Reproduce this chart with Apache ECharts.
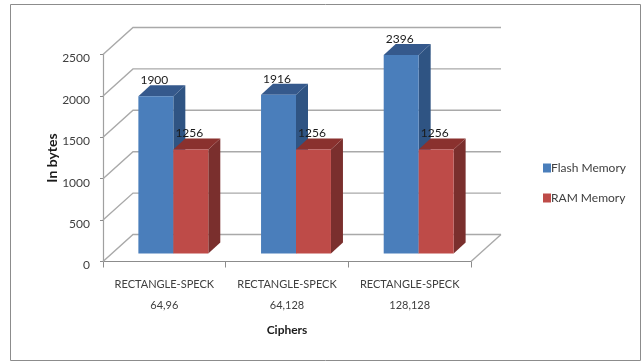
<!DOCTYPE html>
<html>
<head>
<meta charset="utf-8">
<style>html,body{margin:0;padding:0;background:#fff}#chart{width:644px;height:362px}</style>
<script src="https://cdn.jsdelivr.net/npm/echarts@6/dist/echarts.min.js"></script>
</head>
<body>
<div id="chart"></div>
<script>
// Memory footprint of the hybrid ciphers, drawn as pseudo-3D clustered columns.
const categories = ['RECTANGLE-SPECK\n64,96', 'RECTANGLE-SPECK\n64,128', 'RECTANGLE-SPECK\n128,128'];
const flashMemory = [1900, 1916, 2396];
const ramMemory = [1256, 1256, 1256];
const yTicks = [0, 500, 1000, 1500, 2000, 2500];

const FONT = 'Lato, "Open Sans", sans-serif';
const WALL = { dx: 30, dy: -27 };   // front plane to back wall
const GAP = { dx: 9, dy: -8 };      // front plane to column front
const DEPTH = { dx: 12, dy: -11 };  // column depth
const BAR_FRACTION = 0.285;         // column width relative to a category band

const chart = echarts.init(document.getElementById('chart'), null, { renderer: 'canvas' });

function wallItem(params, api) {
  const g = params.coordSys;
  const y = api.coord([0, api.value(0)])[1];
  const left = g.x, right = g.x + g.width;
  const style = { stroke: '#a9a9a9', lineWidth: 1.4, fill: 'none' };
  const shapes = [
    { type: 'polyline', shape: { points: [[left, y], [left + WALL.dx, y + WALL.dy], [right + WALL.dx, y + WALL.dy]] }, style }
  ];
  if (api.value(0) === 0) {
    shapes.push({ type: 'line', shape: { x1: right, y1: y, x2: right + WALL.dx, y2: y + WALL.dy }, style });
  }
  return { type: 'group', children: shapes };
}

function columnItem(slot, front, side, top) {
  return function (params, api) {
    const value = api.value(1);
    const center = api.coord([api.value(0), value]);
    const base = api.coord([api.value(0), 0]);
    const w = api.size([1, 0])[0] * BAR_FRACTION;
    const x0 = center[0] + GAP.dx + slot * w;
    const x1 = x0 + w;
    const yTop = center[1] + GAP.dy;
    const yBase = base[1] + GAP.dy;
    const d = DEPTH;
    return {
      type: 'group',
      children: [
        { type: 'polygon', shape: { points: [[x1, yTop], [x1 + d.dx, yTop + d.dy], [x1 + d.dx, yBase + d.dy], [x1, yBase]] }, style: { fill: side } },
        { type: 'polygon', shape: { points: [[x0, yTop], [x0 + d.dx, yTop + d.dy], [x1 + d.dx, yTop + d.dy], [x1, yTop]] }, style: { fill: top } },
        { type: 'rect', shape: { x: x0, y: yTop, width: w, height: yBase - yTop }, style: { fill: front } },
        { type: 'text', z2: 50, style: { text: String(value), x: x0 + 16, y: yTop - 16, align: 'center', verticalAlign: 'middle', font: '12px ' + FONT, fill: '#1a1a1a' } }
      ]
    };
  };
}

chart.setOption({
  animation: false,
  backgroundColor: '#ffffff',
  graphic: [{
    type: 'rect', silent: true, z: -1,
    shape: { x: 10.5, y: 4.5, width: 630, height: 356 },
    style: { fill: '#ffffff', stroke: '#8c8c8c', lineWidth: 1 }
  }],
  grid: { left: 103, top: 54.5, width: 368, height: 207 },
  legend: {
    orient: 'vertical',
    left: 538,
    top: 157,
    itemWidth: 8,
    itemHeight: 9,
    itemGap: 18,
    icon: 'rect',
    data: ['Flash Memory', 'RAM Memory'],
    textStyle: { fontFamily: FONT, fontSize: 12, color: '#404040', padding: [0, 0, 0, -5] }
  },
  xAxis: {
    type: 'category',
    data: categories,
    name: 'Ciphers',
    nameLocation: 'middle',
    nameGap: 63,
    nameMoveOverlap: false,
    nameTextStyle: { fontFamily: FONT, fontSize: 12, fontWeight: 'bold', color: '#1a1a1a' },
    axisLine: { lineStyle: { color: '#8c8c8c', width: 1.2 } },
    axisTick: { show: true, length: 6, lineStyle: { color: '#8c8c8c' } },
    axisLabel: { fontFamily: FONT, fontSize: 11, color: '#404040', lineHeight: 21, margin: 12, interval: 0 },
    splitLine: { show: false }
  },
  yAxis: {
    type: 'value',
    min: 0,
    max: 2500,
    interval: 500,
    name: 'In bytes',
    nameLocation: 'middle',
    nameGap: 44,
    nameMoveOverlap: false,
    nameTextStyle: { fontFamily: FONT, fontSize: 14, fontWeight: 'bold', color: '#1a1a1a' },
    axisLine: { show: true, lineStyle: { color: '#a0a0a0', width: 1.2 } },
    axisTick: { show: true, length: 3, lineStyle: { color: '#8c8c8c' } },
    axisLabel: {
      margin: 13,
      formatter: v => '{t|' + v + '}',
      rich: { t: { fontFamily: FONT, fontSize: 12, color: '#404040', padding: [8, 0, 0, 0] } }
    },
    splitLine: { show: false }
  },
  series: [
    {
      name: 'walls', type: 'custom', silent: true, z: 1, clip: false,
      data: yTicks.map(v => [v]),
      encode: { y: 0 },
      renderItem: wallItem
    },
    {
      name: 'Flash Memory', type: 'custom', z: 2, clip: false,
      itemStyle: { color: '#4a7ebb' },
      data: flashMemory.map((v, i) => [i, v]),
      encode: { x: 0, y: 1 },
      renderItem: columnItem(-1, '#4a7ebb', '#2f5483', '#35598c')
    },
    {
      name: 'RAM Memory', type: 'custom', z: 3, clip: false,
      itemStyle: { color: '#be4b48' },
      data: ramMemory.map((v, i) => [i, v]),
      encode: { x: 0, y: 1 },
      renderItem: columnItem(0, '#be4b48', '#7a2f2d', '#8a312e')
    }
  ]
});
</script>
</body>
</html>
